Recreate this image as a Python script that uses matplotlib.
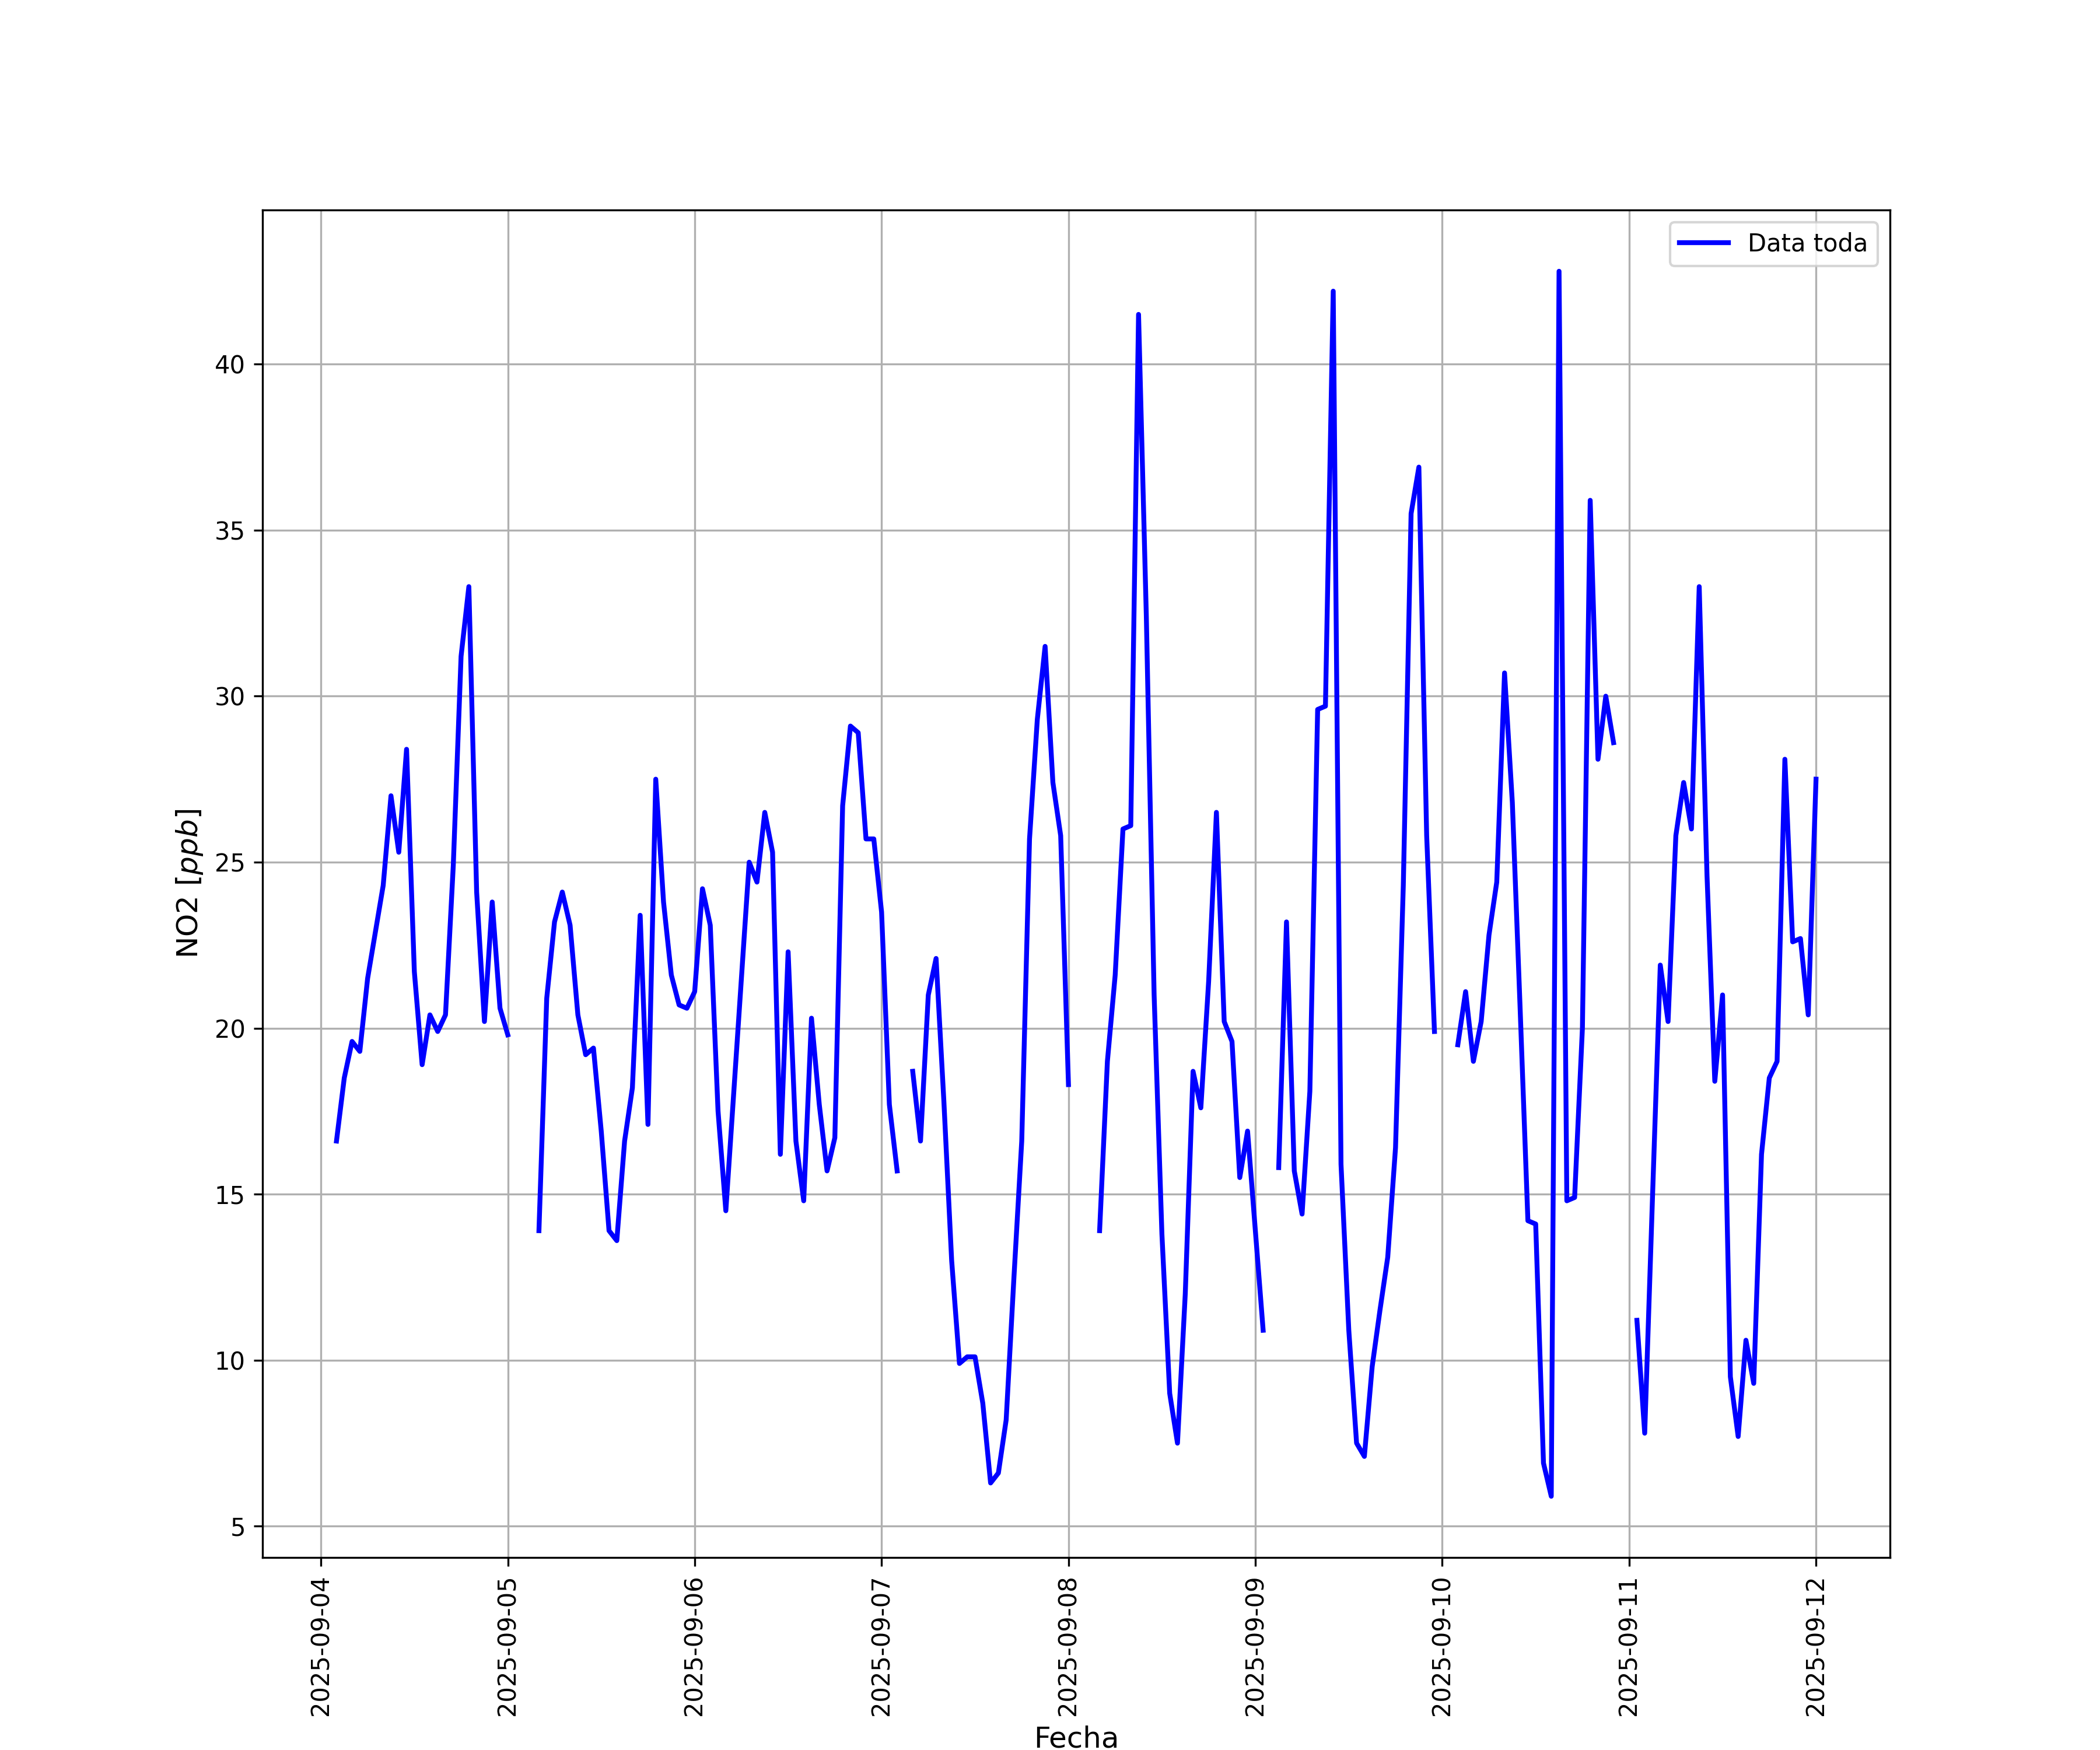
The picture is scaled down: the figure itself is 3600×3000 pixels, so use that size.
import numpy as np
import pandas as pd
import matplotlib
matplotlib.use('Agg')
import matplotlib.pyplot as plt

# Hourly NO2 readings (ppb), first reading at 2025-09-04 02:00, NaN = missing hour
start_time = '2025-09-04 02:00'
nan = np.nan

no2_day1 = [16.6, 18.5, 19.6, 19.3, 21.5, 22.9, 24.3, 27.0, 25.3, 28.4, 21.7,
            18.9, 20.4, 19.9, 20.4, 24.9, 31.2, 33.3, 24.1, 20.2, 23.8, 20.6,
            19.8]
no2_day2 = [nan, nan, nan, 13.9, 20.9, 23.2, 24.1, 23.1, 20.4, 19.2, 19.4,
            16.9, 13.9, 13.6, 16.6, 18.2, 23.4, 17.1, 27.5, 23.8, 21.6, 20.7,
            20.6, 21.1]
no2_day3 = [24.2, 23.1, 17.5, 14.5, 18.0, 21.5, 25.0, 24.4, 26.5, 25.3, 16.2,
            22.3, 16.6, 14.8, 20.3, 17.7, 15.7, 16.7, 26.7, 29.1, 28.9, 25.7,
            25.7, 23.5]
no2_day4 = [17.7, 15.7, nan, 18.7, 16.6, 21.0, 22.1, 17.8, 13.0, 9.9, 10.1,
            10.1, 8.7, 6.3, 6.6, 8.2, 12.5, 16.6, 25.7, 29.3, 31.5, 27.4,
            25.8, 18.3]
no2_day5 = [nan, nan, nan, 13.9, 19.0, 21.6, 26.0, 26.1, 41.5, 32.4, 21.0,
            13.8, 9.0, 7.5, 12.0, 18.7, 17.6, 21.4, 26.5, 20.2, 19.6, 15.5,
            16.9, 13.9]
no2_day6 = [10.9, nan, 15.8, 23.2, 15.7, 14.4, 18.1, 29.6, 29.7, 42.2, 15.9,
            10.9, 7.5, 7.1, 9.8, 11.5, 13.1, 16.4, 24.3, 35.5, 36.9, 25.8,
            19.9, nan]
no2_day7 = [nan, 19.5, 21.1, 19.0, 20.2, 22.8, 24.4, 30.7, 26.8, 20.6, 14.2,
            14.1, 6.9, 5.9, 42.8, 14.8, 14.9, 20.0, 35.9, 28.1, 30.0, 28.6,
            nan, nan]
no2_day8 = [11.2, 7.8, 14.9, 21.9, 20.2, 25.8, 27.4, 26.0, 33.3, 24.6, 18.4,
            21.0, 9.5, 7.7, 10.6, 9.3, 16.2, 18.5, 19.0, 28.1, 22.6, 22.7,
            20.4, 27.5]

no2 = (no2_day1 + no2_day2 + no2_day3 + no2_day4 + no2_day5 + no2_day6
       + no2_day7 + no2_day8)
fechas = pd.date_range(start=start_time, periods=len(no2), freq='h')

df = pd.DataFrame({'Fecha': fechas, 'NO2': no2}).set_index('Fecha')

plt.figure(figsize=(12, 10))
plt.plot(df.index, df['NO2'], color='blue', linewidth=2, label='Data toda')
plt.xlabel('Fecha', fontsize=12)
plt.ylabel('NO2 [$ppb$]', fontsize=12)
plt.xticks(rotation=90)
plt.grid(True)
plt.legend(loc='upper right')

plt.savefig('out.png', dpi=300)
plt.close()
